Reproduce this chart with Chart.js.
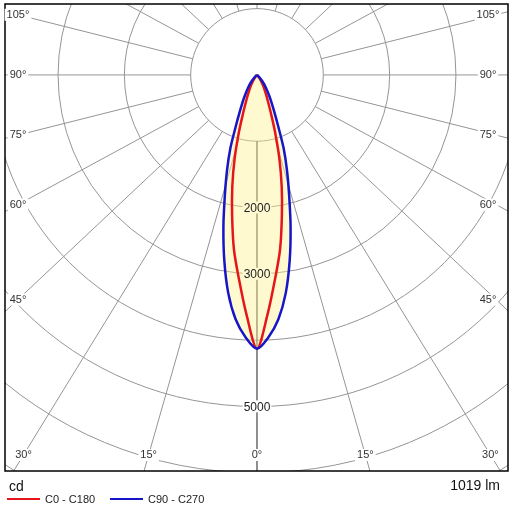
<!DOCTYPE html>
<html>
<head>
<meta charset="utf-8">
<script src="https://cdn.jsdelivr.net/npm/chart.js@4.4.1/dist/chart.umd.min.js"></script>
<style>
  html, body { margin: 0; padding: 0; background: #fff; }
  #wrap { width: 512px; height: 512px; }
</style>
</head>
<body>
<div id="wrap"><canvas id="c" width="512" height="512"></canvas></div>
<script>
// gamma angles (deg from nadir) and intensities (cd)
const angles   = [0, 2.5, 5, 7.5, 10, 12.5, 15, 17.5, 20, 22.5, 25, 27.5, 30, 35, 40, 45, 50, 60, 90, 180];
const c0c180   = [4130, 3620, 3100, 2660, 2160, 1720, 1300, 910, 610, 430, 320, 240, 180, 90, 30, 0, 0, 0, 0, 0];
const c90c270  = [4130, 3960, 3700, 3320, 2840, 2340, 1870, 1500, 1170, 830, 620, 480, 380, 235, 130, 55, 15, 0, 0, 0];

const rings      = [1000, 2000, 3000, 4000, 5000, 6000, 7000, 8000];
const ringLabels = [2000, 3000, 5000];
const spokes     = [0, 15, 30, 45, 60, 75, 90, 105, 120, 135, 150, 165, 180];
const spokeLabels = [0, 15, 30, 45, 60, 75, 90, 105];

const seriesNames = ['C0 - C180', 'C90 - C270'];
const lumens = '1019 lm';
const unit = 'cd';

const RED = '#e4161b';
const BLUE = '#1616c8';
const SPOKE_SQUASH = 0.94; // spokes in the original lean slightly away from nadir

// polar -> x/y in cd, full loop: left half (C180 / C270) then right half
function loop(vals) {
  const pts = [];
  for (let i = angles.length - 1; i >= 0; i--) {
    const a = angles[i] * Math.PI / 180;
    pts.push({ x: -vals[i] * Math.sin(a), y: -vals[i] * Math.cos(a) });
  }
  for (let i = 1; i < angles.length; i++) {
    const a = angles[i] * Math.PI / 180;
    pts.push({ x: vals[i] * Math.sin(a), y: -vals[i] * Math.cos(a) });
  }
  return pts;
}

function spokeDir(g) {
  const a = g * Math.PI / 180;
  const ux = Math.sin(a), uy = Math.cos(a) * SPOKE_SQUASH;
  const n = Math.hypot(ux, uy);
  return [ux / n, uy / n];
}

const polarGrid = {
  id: 'polarGrid',
  beforeDatasetsDraw(chart) {
    const { ctx, chartArea: ca, scales: { x, y } } = chart;
    const cx = x.getPixelForValue(0), cy = y.getPixelForValue(0);
    const k = x.getPixelForValue(1000) - cx; // px per 1000 cd
    ctx.save();
    ctx.beginPath();
    ctx.rect(ca.left, ca.top, ca.right - ca.left, ca.bottom - ca.top);
    ctx.clip();
    ctx.lineWidth = 1;
    ctx.strokeStyle = '#959595';
    rings.forEach(r => {
      ctx.beginPath();
      ctx.arc(cx, cy, r / 1000 * k, 0, Math.PI * 2);
      ctx.stroke();
    });
    const rMin = rings[0], rMax = rings[rings.length - 1] * 1.2;
    spokes.forEach(g => {
      const [ux, uy] = spokeDir(g);
      [-1, 1].forEach(side => {
        if ((g === 0 || g === 180) && side < 0) return;
        ctx.beginPath();
        ctx.strokeStyle = g === 0 ? '#222' : '#959595';
        ctx.moveTo(x.getPixelForValue(side * rMin * ux), y.getPixelForValue(-rMin * uy));
        ctx.lineTo(x.getPixelForValue(side * rMax * ux), y.getPixelForValue(-rMax * uy));
        ctx.stroke();
      });
    });
    ctx.restore();
  },
  afterDatasetsDraw(chart) {
    const { ctx, scales: { x, y } } = chart;
    const peak = Math.max(...c90c270);
    ctx.save();
    ctx.font = '12px "Liberation Sans", Arial, sans-serif';
    ctx.textAlign = 'center';
    ctx.textBaseline = 'middle';
    ringLabels.forEach(r => {
      const px = x.getPixelForValue(0), py = y.getPixelForValue(-r);
      const w = ctx.measureText(String(r)).width;
      ctx.fillStyle = r < peak ? '#fff9d2' : '#fff';
      ctx.fillRect(px - w / 2 - 1, py - 6, w + 2, 12);
      ctx.fillStyle = '#222';
      ctx.fillText(String(r), px, py + 1);
    });
    ctx.restore();
  },
  afterDraw(chart) {
    const { ctx, chartArea: ca, scales: { x, y } } = chart;
    const cx = x.getPixelForValue(0), cy = y.getPixelForValue(0);
    ctx.save();
    // frame
    ctx.strokeStyle = '#000';
    ctx.lineWidth = 1.5;
    ctx.strokeRect(ca.left, ca.top, ca.right - ca.left, ca.bottom - ca.top);

    // angle labels where each spoke meets an inset box
    ctx.font = '11px "Liberation Sans", Arial, sans-serif';
    ctx.textAlign = 'center';
    ctx.textBaseline = 'middle';
    const L = ca.left + 13, B = ca.bottom - 16;
    const reach = cx - L;
    spokeLabels.forEach(g => {
      const [sx, uy] = spokeDir(g);
      [-1, 1].forEach(side => {
        if (g === 0 && side < 0) return;
        const tSide = sx > 0 ? reach / sx : Infinity;
        const tBot = uy > 0 ? (B - cy) / uy : Infinity;
        let px, py;
        if (tBot <= tSide) {
          px = cx + side * sx * tBot; py = B;
        } else {
          // side labels sit a little further in on the right
          px = side < 0 ? L : ca.right - 20;
          py = cy + uy * tSide;
        }
        const txt = g + '°';
        const w = ctx.measureText(txt).width;
        ctx.fillStyle = '#fff';
        ctx.fillRect(px - w / 2 - 2, py - 6, w + 4, 12);
        ctx.fillStyle = '#333';
        ctx.fillText(txt, px, py);
      });
    });

    // unit, lumen text and legend under the frame
    ctx.textBaseline = 'middle';
    ctx.font = '14px "Liberation Sans", Arial, sans-serif';
    ctx.fillStyle = '#111';
    ctx.textAlign = 'left';
    ctx.fillText(unit, 9, 487);
    ctx.textAlign = 'right';
    ctx.fillText(lumens, 500, 486);

    ctx.font = '11px "Liberation Sans", Arial, sans-serif';
    ctx.textAlign = 'left';
    const items = [[seriesNames[0], RED, 7], [seriesNames[1], BLUE, 110]];
    items.forEach(([name, col, x0]) => {
      ctx.strokeStyle = col;
      ctx.lineWidth = 2;
      ctx.beginPath();
      ctx.moveTo(x0, 499);
      ctx.lineTo(x0 + 33, 499);
      ctx.stroke();
      ctx.fillStyle = '#222';
      ctx.fillText(name, x0 + 38, 500);
    });
    ctx.restore();
  }
};

new Chart(document.getElementById('c'), {
  type: 'scatter',
  data: {
    datasets: [
      {
        label: seriesNames[1],
        data: loop(c90c270),
        showLine: true,
        borderColor: BLUE,
        borderWidth: 2.5,
        pointRadius: 0,
        tension: 0.3,
        order: 1
      },
      {
        label: seriesNames[0],
        data: loop(c0c180),
        showLine: true,
        borderColor: RED,
        borderWidth: 2.5,
        pointRadius: 0,
        tension: 0.3,
        order: 2
      },
      {
        label: 'fill',
        data: loop(c90c270),
        showLine: true,
        borderWidth: 0,
        borderColor: 'rgba(0,0,0,0)',
        backgroundColor: 'rgba(255,240,140,0.42)',
        fill: 'shape',
        pointRadius: 0,
        tension: 0.3,
        order: 3
      }
    ]
  },
  options: {
    responsive: false,
    devicePixelRatio: 1,
    animation: false,
    layout: { padding: { left: 5, top: 4, right: 4, bottom: 41 } },
    scales: {
      x: { type: 'linear', min: -3800, max: 3785, display: false },
      y: { type: 'linear', min: -5975, max: 1070, display: false }
    },
    plugins: {
      legend: { display: false },
      tooltip: { enabled: false }
    }
  },
  plugins: [polarGrid]
});
</script>
</body>
</html>
